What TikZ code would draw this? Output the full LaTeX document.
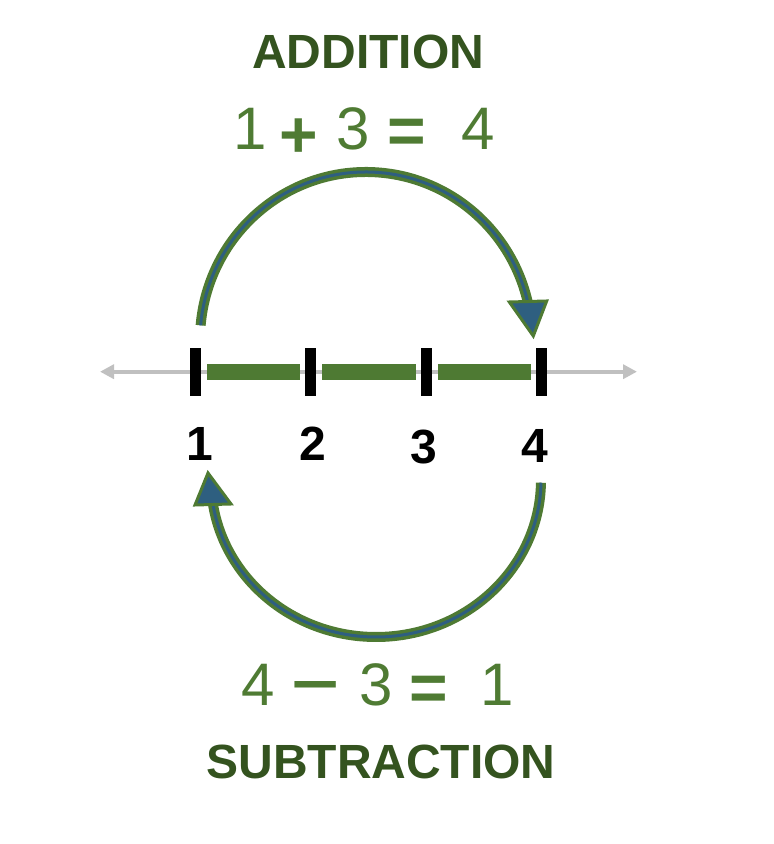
\documentclass[tikz,border=0pt]{standalone}
\usepackage{fontspec}
\setmainfont{Liberation Sans}
\usetikzlibrary{arrows.meta}
\definecolor{titlegreen}{HTML}{34531F}
\definecolor{eqgreen}{HTML}{4F7B33}
\definecolor{bargreen}{HTML}{4E7A33}
\definecolor{arcblue}{HTML}{2E5F80}
\definecolor{linegray}{HTML}{C0C0C0}
\tikzset{
  title/.style={font=\bfseries\fontsize{48}{48}\selectfont, text=titlegreen, inner sep=0pt},
  num/.style={font=\bfseries\fontsize{48}{48}\selectfont, text=black, inner sep=0pt},
  eq/.style={font=\fontsize{60}{60}\selectfont, text=eqgreen, inner sep=0pt},
  eqop/.style={font=\bfseries\fontsize{66}{66}\selectfont, text=eqgreen, inner sep=0pt},
  tickmark/.style={fill=black, minimum width=11pt, minimum height=47.7pt, inner sep=0pt},
  bar/.style={draw=bargreen, line width=15.7pt, shorten <=6pt, shorten >=5pt},
  axis/.style={draw=linegray, line width=4pt,
    arrows={Triangle[length=14pt,width=14pt]-Triangle[length=14pt,width=14pt]}},
  jump/.style={draw=bargreen, line width=3.5pt, double=arcblue, double distance=3pt},
  head/.style={fill=arcblue, draw=bargreen, line width=3pt, line join=miter},
}
\begin{document}
\begin{tikzpicture}[x=1pt,y=1pt]
\useasboundingbox (0,0) rectangle (774,844);
% titles
\node[title] (add) at (368.3,792) {ADDITION};
\node[title] (sub) at (381,82) {SUBTRACTION};
% top equation
\node[eq] (e1) at (250,715.5) {1};
\node[eqop] (e2) at (299,706) {+};
\node[eq] (e3) at (353,715.5) {3};
\node[eqop] (e4) at (407,707.5) {=};
\node[eq] (e5) at (478,715.5) {4};
% bottom equation
\node[eq] (f1) at (258,159) {4};
\node[eqop] (f2) at (316,151) {\scalebox{1.25}[0.9]{−}};
\node[eq] (f3) at (376,159) {3};
\node[eqop] (f4) at (429,151) {=};
\node[eq] (f5) at (497,159) {1};
% number line
\coordinate (la) at (100,472.3);
\coordinate (ra) at (637,472.3);
\draw[axis] (la) -- (ra);
\node[tickmark] (t1) at (195.5,471.9) {};
\node[tickmark] (t2) at (310.5,471.9) {};
\node[tickmark] (t3) at (426.2,471.9) {};
\node[tickmark] (t4) at (541.3,471.9) {};
\draw[bar] (t1.east |- 0,471.8) -- (t2.west |- 0,471.8);
\draw[bar] (t2.east |- 0,471.8) -- (t3.west |- 0,471.8);
\draw[bar] (t3.east |- 0,471.8) -- (t4.west |- 0,471.8);
\node[num] (n1) at (200,400.3) {1};
\node[num] (n2) at (313,400.3) {2};
\node[num] (n3) at (424.3,397) {3};
\node[num] (n4) at (535,398) {4};
% addition jump
\coordinate (topc) at (366,504);
\draw[jump] (topc) ++(175:166pt and 168pt) arc[start angle=175, end angle=10, x radius=166pt, y radius=168pt];
\draw[head] (509.3,542) -- (546.7,543) -- (533.3,508) -- cycle;
% subtraction jump
\coordinate (botc) at (376,364);
\draw[jump] (botc) ++(-1:165pt and 157pt) arc[start angle=-1, end angle=-173, x radius=165pt, y radius=157pt];
\draw[head] (195,339) -- (231,340) -- (208,371) -- cycle;
\end{tikzpicture}
\end{document}
